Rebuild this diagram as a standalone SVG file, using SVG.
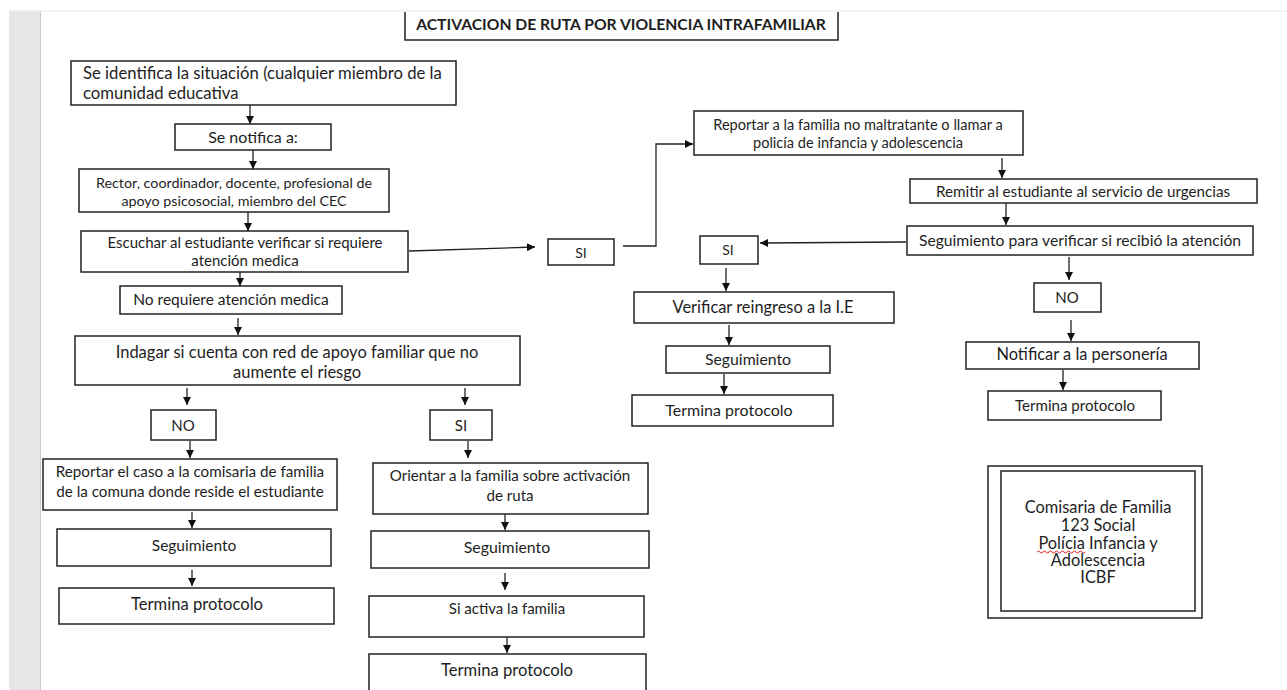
<svg xmlns="http://www.w3.org/2000/svg" width="1287" height="690" viewBox="0 0 1287 690">
<defs>
<marker id="ah" viewBox="0 0 8 8" refX="8" refY="4" markerWidth="8" markerHeight="8" markerUnits="userSpaceOnUse" orient="auto">
<path d="M0,0 L8,4 L0,8 z" fill="#111"/>
</marker>
<style>
.b{fill:#fff;stroke:#222;stroke-width:1.5}
.t{font-family:Lato,"Liberation Sans",sans-serif;fill:#1e1e1e;text-anchor:middle}
.l{text-anchor:start}
.c line,.c path{stroke:#222;stroke-width:1.3;fill:none;marker-end:url(#ah)}
</style>
</defs>
<rect x="0" y="0" width="1287" height="690" fill="#fff"/>
<rect x="9" y="11" width="31" height="679" fill="#e6e6e6"/>
<line x1="40.5" y1="11" x2="40.5" y2="690" stroke="#c9c9c9" stroke-width="1"/>
<line x1="9" y1="11" x2="1287" y2="11" stroke="#eeeeee" stroke-width="1.5"/>

<g id="title"><path d="M405,12 V40 H838 V12" fill="#fff" stroke="#222" stroke-width="1.5"/><text class="t" x="621" y="30" font-size="15.7" font-weight="bold">ACTIVACION DE RUTA POR VIOLENCIA INTRAFAMILIAR</text></g>

<g id="n1"><rect class="b" x="71" y="61" width="385" height="44"/><text class="t l" x="83" y="79" font-size="16.7">Se identifica la situación (cualquier miembro de la</text><text class="t l" x="83" y="99" font-size="16.7">comunidad educativa</text></g>
<g id="n2"><rect class="b" x="175" y="124" width="156" height="26"/><text class="t" x="253" y="142.5" font-size="16">Se notifica a:</text></g>
<g id="n3"><rect class="b" x="79" y="169" width="310" height="43"/><text class="t" x="234" y="188" font-size="14.3">Rector, coordinador, docente, profesional de</text><text class="t" x="234" y="206" font-size="14.3">apoyo psicosocial, miembro del CEC</text></g>
<g id="n4"><rect class="b" x="81" y="231" width="327" height="41"/><text class="t" x="245" y="248" font-size="15">Escuchar al estudiante verificar si requiere</text><text class="t" x="245" y="266" font-size="15">atención medica</text></g>
<g id="n5"><rect class="b" x="120" y="286" width="222" height="28"/><text class="t" x="231" y="305" font-size="15.5">No requiere atención medica</text></g>
<g id="n6"><rect class="b" x="75" y="336" width="445" height="49"/><text class="t" x="297" y="358" font-size="16.5">Indagar si cuenta con red de apoyo familiar que no</text><text class="t" x="297" y="378" font-size="16.5">aumente el riesgo</text></g>
<g id="no1"><rect class="b" x="151" y="410" width="65" height="30"/><text class="t" x="183" y="430.5" font-size="15">NO</text></g>
<g id="si1"><rect class="b" x="430" y="410" width="62" height="30"/><text class="t" x="461" y="430.5" font-size="15">SI</text></g>
<g id="l1"><rect class="b" x="43" y="459" width="294" height="51"/><text class="t" x="190" y="477" font-size="15.2">Reportar el caso a la comisaria de familia</text><text class="t" x="190" y="497" font-size="15.2">de la comuna donde reside el estudiante</text></g>
<g id="l2"><rect class="b" x="57" y="529" width="274" height="37"/><text class="t" x="194" y="551" font-size="15.5">Seguimiento</text></g>
<g id="l3"><rect class="b" x="59" y="588" width="275" height="36"/><text class="t" x="197" y="609.5" font-size="16.6">Termina protocolo</text></g>
<g id="m1"><rect class="b" x="373" y="463" width="275" height="51"/><text class="t" x="510" y="481" font-size="15.1">Orientar a la familia sobre activación</text><text class="t" x="510" y="501" font-size="15.1">de ruta</text></g>
<g id="m2"><rect class="b" x="371" y="531" width="278" height="37"/><text class="t" x="507" y="552.5" font-size="15.9">Seguimiento</text></g>
<g id="m3"><rect class="b" x="369" y="596" width="275" height="41"/><text class="t" x="507" y="614" font-size="15">Si activa la familia</text></g>
<g id="m4"><rect class="b" x="369" y="654" width="277" height="40"/><text class="t" x="507" y="675.5" font-size="16.6">Termina protocolo</text></g>
<g id="si0"><rect class="b" x="548" y="239" width="66" height="26"/><text class="t" x="581" y="258" font-size="14">SI</text></g>
<g id="r1"><rect class="b" x="694" y="111" width="329" height="44"/><text class="t" x="858" y="130" font-size="14.6">Reportar a la familia no maltratante o llamar a</text><text class="t" x="858" y="148" font-size="14.6">policía de infancia y adolescencia</text></g>
<g id="r2"><rect class="b" x="910" y="179" width="347" height="24"/><text class="t" x="1083" y="196.5" font-size="15.2">Remitir al estudiante al servicio de urgencias</text></g>
<g id="r3"><rect class="b" x="907" y="226" width="346" height="29"/><text class="t" x="1080" y="245.5" font-size="15.7">Seguimiento para verificar si recibió la atención</text></g>
<g id="si2"><rect class="b" x="700" y="236" width="58" height="28"/><text class="t" x="728" y="255" font-size="14">SI</text></g>
<g id="r4"><rect class="b" x="634" y="292" width="260" height="31"/><text class="t" x="763" y="312.5" font-size="16.4">Verificar reingreso a la I.E</text></g>
<g id="r5"><rect class="b" x="666" y="346" width="164" height="27"/><text class="t" x="748" y="364.5" font-size="15.8">Seguimiento</text></g>
<g id="r6"><rect class="b" x="632" y="395" width="201" height="31"/><text class="t" x="729" y="415.5" font-size="16">Termina protocolo</text></g>
<g id="no2"><rect class="b" x="1034" y="283" width="67" height="29"/><text class="t" x="1067" y="303" font-size="15">NO</text></g>
<g id="r7"><rect class="b" x="966" y="342" width="233" height="27"/><text class="t" x="1082" y="359.5" font-size="16.4">Notificar a la personería</text></g>
<g id="r8"><rect class="b" x="988" y="391" width="173" height="29"/><text class="t" x="1075" y="410.5" font-size="15.1">Termina protocolo</text></g>
<g id="legend"><rect class="b" x="988" y="466" width="214" height="152"/><rect class="b" x="1001" y="471" width="194" height="140"/>
<text class="t" x="1098" y="513" font-size="16.4">Comisaria de Familia</text>
<text class="t" x="1098" y="531" font-size="16.4">123 Social</text>
<text class="t" x="1098" y="549" font-size="16.4">Polícia Infancia y</text>
<path d="M1037,552 q1.5,-2 3,0 t3,0 t3,0 t3,0 t3,0 t3,0 t3,0 t3,0 t3,0 t3,0 t3,0 t3,0 t3,0 t3,0 t3,0 t3,0" fill="none" stroke="#e02020" stroke-width="1"/>
<text class="t" x="1098" y="566" font-size="16.4">Adolescencia</text>
<text class="t" x="1098" y="583" font-size="16.4">ICBF</text></g>

<g id="connectors" class="c">
<line x1="250" y1="105" x2="250" y2="124"/>
<line x1="253" y1="150" x2="253" y2="169"/>
<line x1="248" y1="212" x2="248" y2="231"/>
<line x1="240" y1="272" x2="240" y2="286"/>
<line x1="238" y1="318" x2="238" y2="335"/>
<line x1="187" y1="388" x2="187" y2="405"/>
<line x1="465" y1="388" x2="465" y2="405"/>
<line x1="190" y1="441" x2="190" y2="458"/>
<line x1="192" y1="512" x2="192" y2="528"/>
<line x1="192" y1="570" x2="192" y2="586"/>
<line x1="468" y1="441" x2="468" y2="458"/>
<line x1="505" y1="514" x2="505" y2="530"/>
<line x1="505" y1="573" x2="505" y2="590"/>
<line x1="507" y1="637" x2="507" y2="653"/>
<line x1="409" y1="251" x2="535" y2="247"/>
<path d="M623,246 H656 V144 H693"/>
<line x1="1002" y1="158" x2="1002" y2="178"/>
<line x1="1006" y1="203" x2="1006" y2="225"/>
<line x1="906" y1="242" x2="760" y2="243"/>
<line x1="726" y1="268" x2="726" y2="291"/>
<line x1="729" y1="325" x2="729" y2="345"/>
<line x1="724" y1="374" x2="724" y2="394"/>
<line x1="1069" y1="257" x2="1069" y2="280"/>
<line x1="1071" y1="320" x2="1071" y2="341"/>
<line x1="1063" y1="370" x2="1063" y2="390"/>
</g>
</svg>
